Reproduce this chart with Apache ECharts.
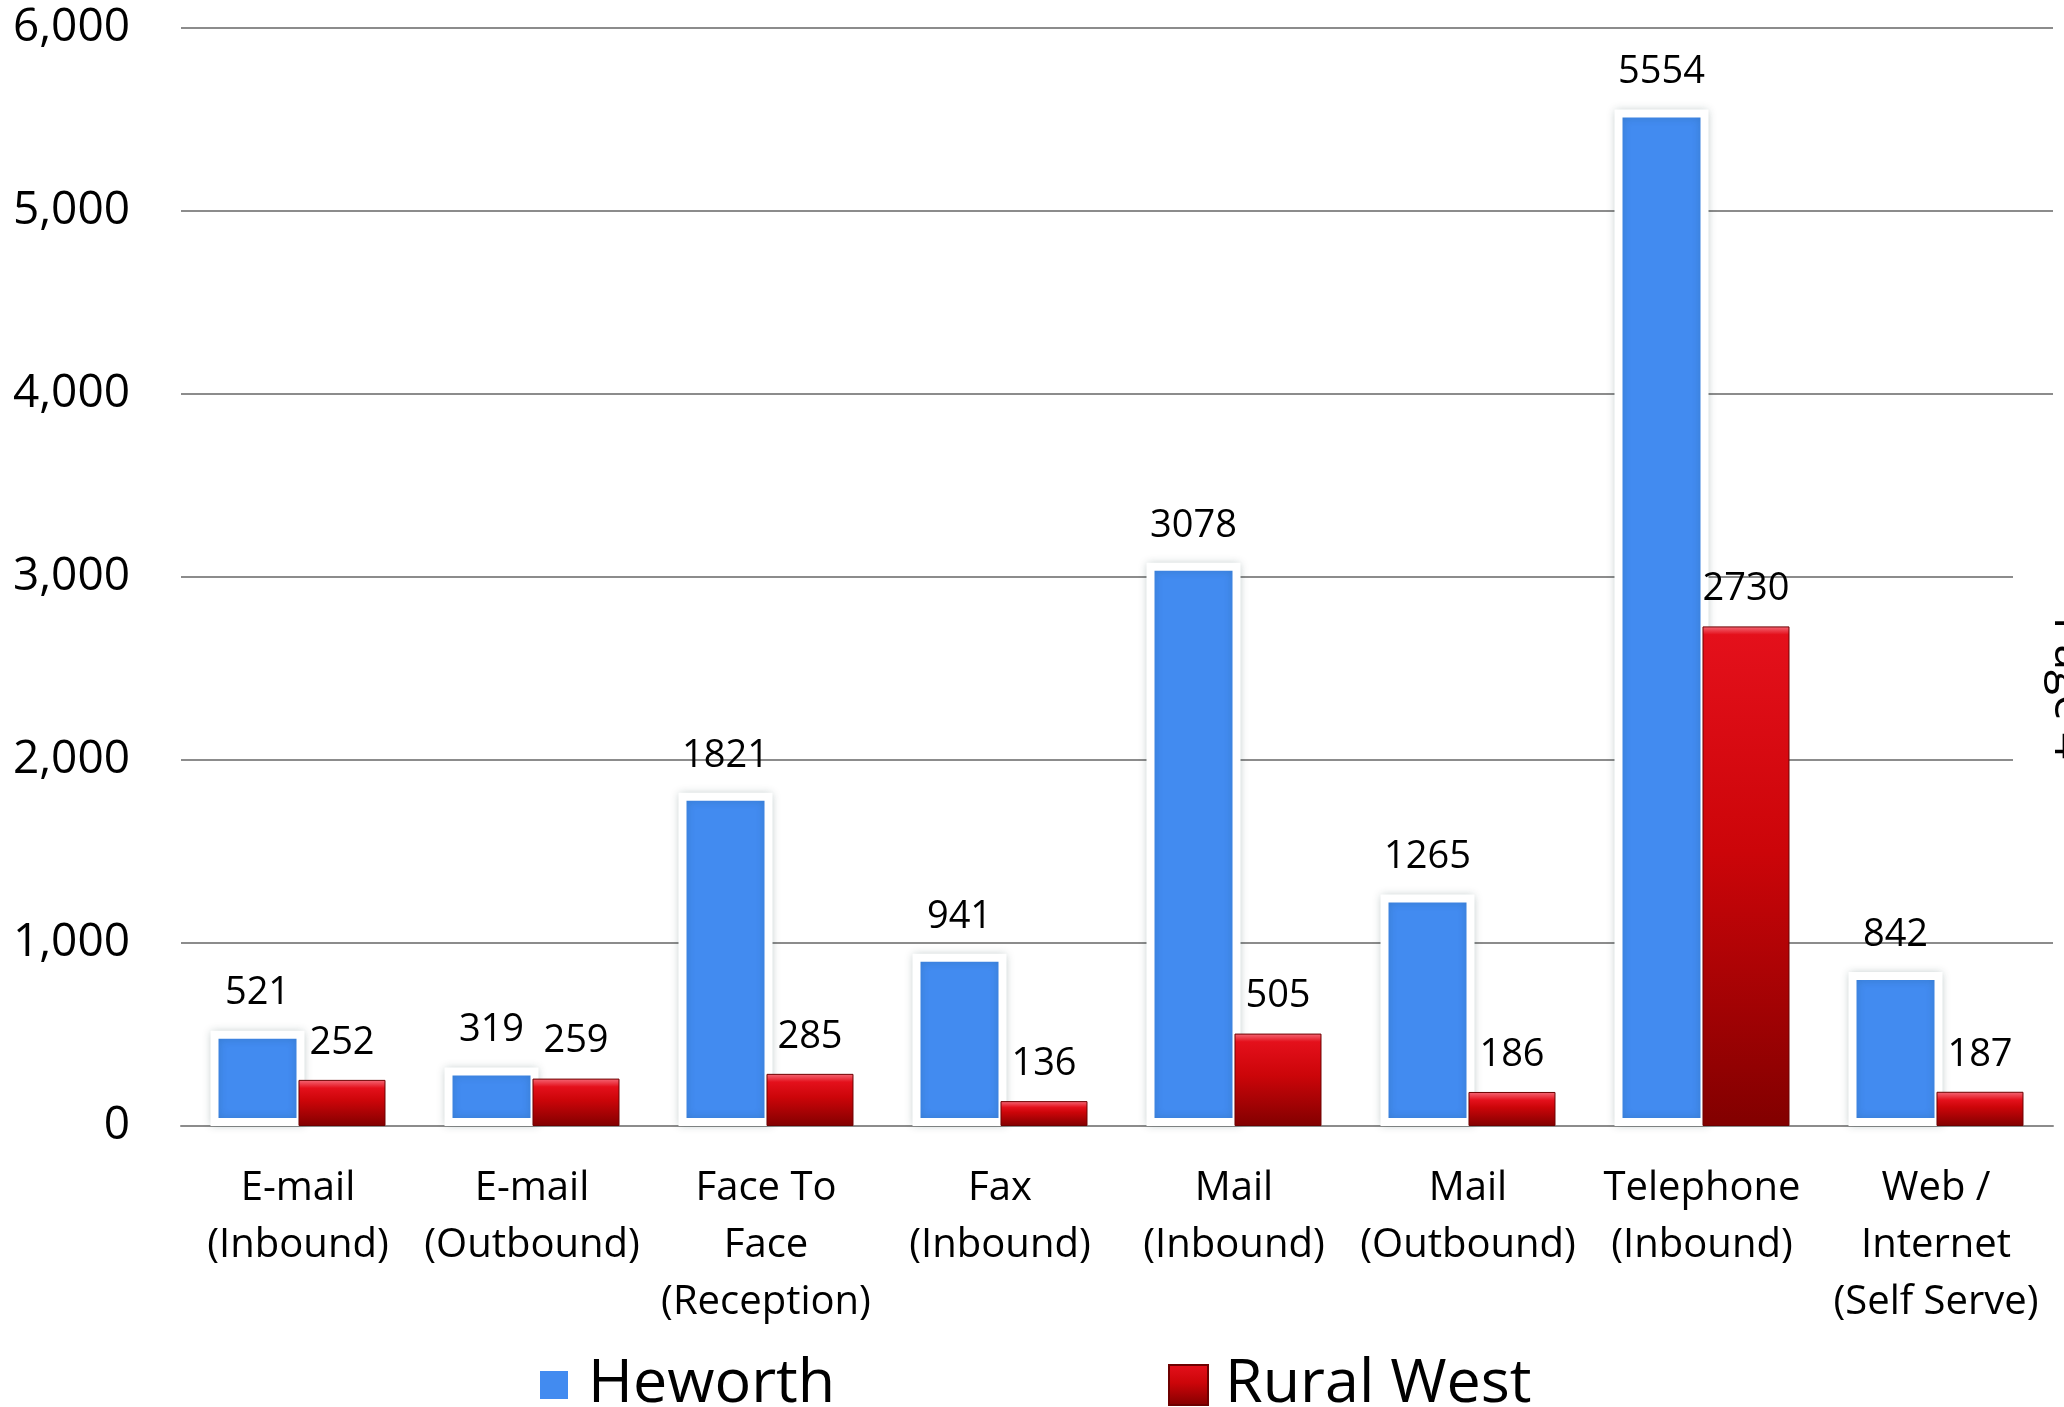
<!doctype html>
<html lang="en">
  <head>
    <meta charset="UTF-8" />
    <title>Contacts by channel</title>
    <script src="https://cdn.jsdelivr.net/npm/echarts@6/dist/echarts.min.js"></script>
    <style>
      body {
        padding: 0;
        margin: 0;
        background: #fff;
      }
    </style>
  </head>
  <body>
    <div class="main" style="width: 2064px; height: 1407px"></div>
  </body>
  <script>
    const categories = [
      "E-mail\n(Inbound)",
      "E-mail\n(Outbound)",
      "Face To\nFace\n(Reception)",
      "Fax\n(Inbound)",
      "Mail\n(Inbound)",
      "Mail\n(Outbound)",
      "Telephone\n(Inbound)",
      "Web /\nInternet\n(Self Serve)",
    ];
    const heworth = [521, 319, 1821, 941, 3078, 1265, 5554, 842];
    const ruralWest = [252, 259, 285, 136, 505, 186, 2730, 187];
    const yTicks = [0, 6000, 1000]; // min, max, interval

    const font = "'Open Sans', 'Noto Sans', sans-serif";

    // red bars have a light bevel on top, keep it a few px tall whatever the height
    function redFill(v) {
      const bevel = Math.min(0.25, 45 / v);
      return new echarts.graphic.LinearGradient(0, 0, 0, 1, [
        { offset: 0, color: "#f56a78" },
        { offset: bevel, color: "#e4101b" },
        { offset: Math.max(bevel, 0.45), color: "#cc0509" },
        { offset: 1, color: "#820000" },
      ]);
    }

    const myChart = echarts.init(document.querySelector(".main"));

    const valueLabel = {
      show: true,
      position: "top",
      distance: 18,
      color: "#000",
      fontFamily: font,
      fontSize: 38,
    };

    const option = {
      animation: false,
      backgroundColor: "#fff",
      grid: { left: 181, right: 11, top: 28, bottom: 281 },
      legend: [
        {
          data: ["Heworth"],
          icon: "rect",
          left: 533,
          top: 1349,
          itemWidth: 30,
          itemHeight: 30,
          itemGap: 0,
          textStyle: { fontFamily: font, fontSize: 61, color: "#000", lineHeight: 62, padding: [0, 0, 0, 14] },
        },
        {
          data: ["Rural West"],
          icon: "rect",
          left: 1163,
          top: 1349,
          itemWidth: 39,
          itemHeight: 40,
          itemGap: 0,
          textStyle: { fontFamily: font, fontSize: 61, color: "#000", lineHeight: 62, padding: [0, 0, 0, 12] },
        },
      ],
      xAxis: {
        type: "category",
        data: categories,
        axisTick: { show: false },
        axisLine: { lineStyle: { color: "#8c8c8c", width: 2 } },
        axisLabel: {
          interval: 0,
          margin: 34,
          color: "#000",
          fontFamily: font,
          fontSize: 40,
          lineHeight: 57,
        },
      },
      yAxis: {
        type: "value",
        min: yTicks[0],
        max: yTicks[1],
        interval: yTicks[2],
        axisLine: { show: false },
        axisTick: { show: false },
        splitLine: { lineStyle: { color: "#8c8c8c", width: 2 } },
        axisLabel: {
          margin: 51,
          color: "#000",
          fontFamily: font,
          fontSize: 46,
          formatter: (v) => v.toLocaleString("en-US"),
        },
      },
      series: [
        {
          name: "Heworth",
          type: "bar",
          data: heworth,
          barWidth: 94,
          barGap: "-6.4%",
          itemStyle: {
            color: "#428bf0",
            borderColor: "#fff",
            borderWidth: 8,
            shadowBlur: 8,
            shadowColor: "rgba(0, 50, 50, 0.18)",
          },
          label: valueLabel,
        },
        {
          name: "Rural West",
          type: "bar",
          barWidth: 87,
          data: ruralWest.map((v) => ({ value: v, itemStyle: { color: redFill(v) } })),
          itemStyle: {
            color: redFill(2000),
            borderColor: "#6e0000",
            borderWidth: 1,
          },
          label: valueLabel,
        },
      ],
      graphic: [
        {
          // page number box sitting over the right edge
          type: "rect",
          shape: { x: 2013, y: 420, width: 60, height: 480 },
          style: { fill: "#fff" },
          z: 10,
        },
        {
          type: "text",
          x: 2045,
          y: 688,
          rotation: -Math.PI / 2,
          z: 11,
          style: {
            text: "Page 4",
            fill: "#000",
            font: "46px " + font,
            align: "center",
            verticalAlign: "bottom",
          },
        },
      ],
    };

    myChart.setOption(option);
  </script>
</html>
